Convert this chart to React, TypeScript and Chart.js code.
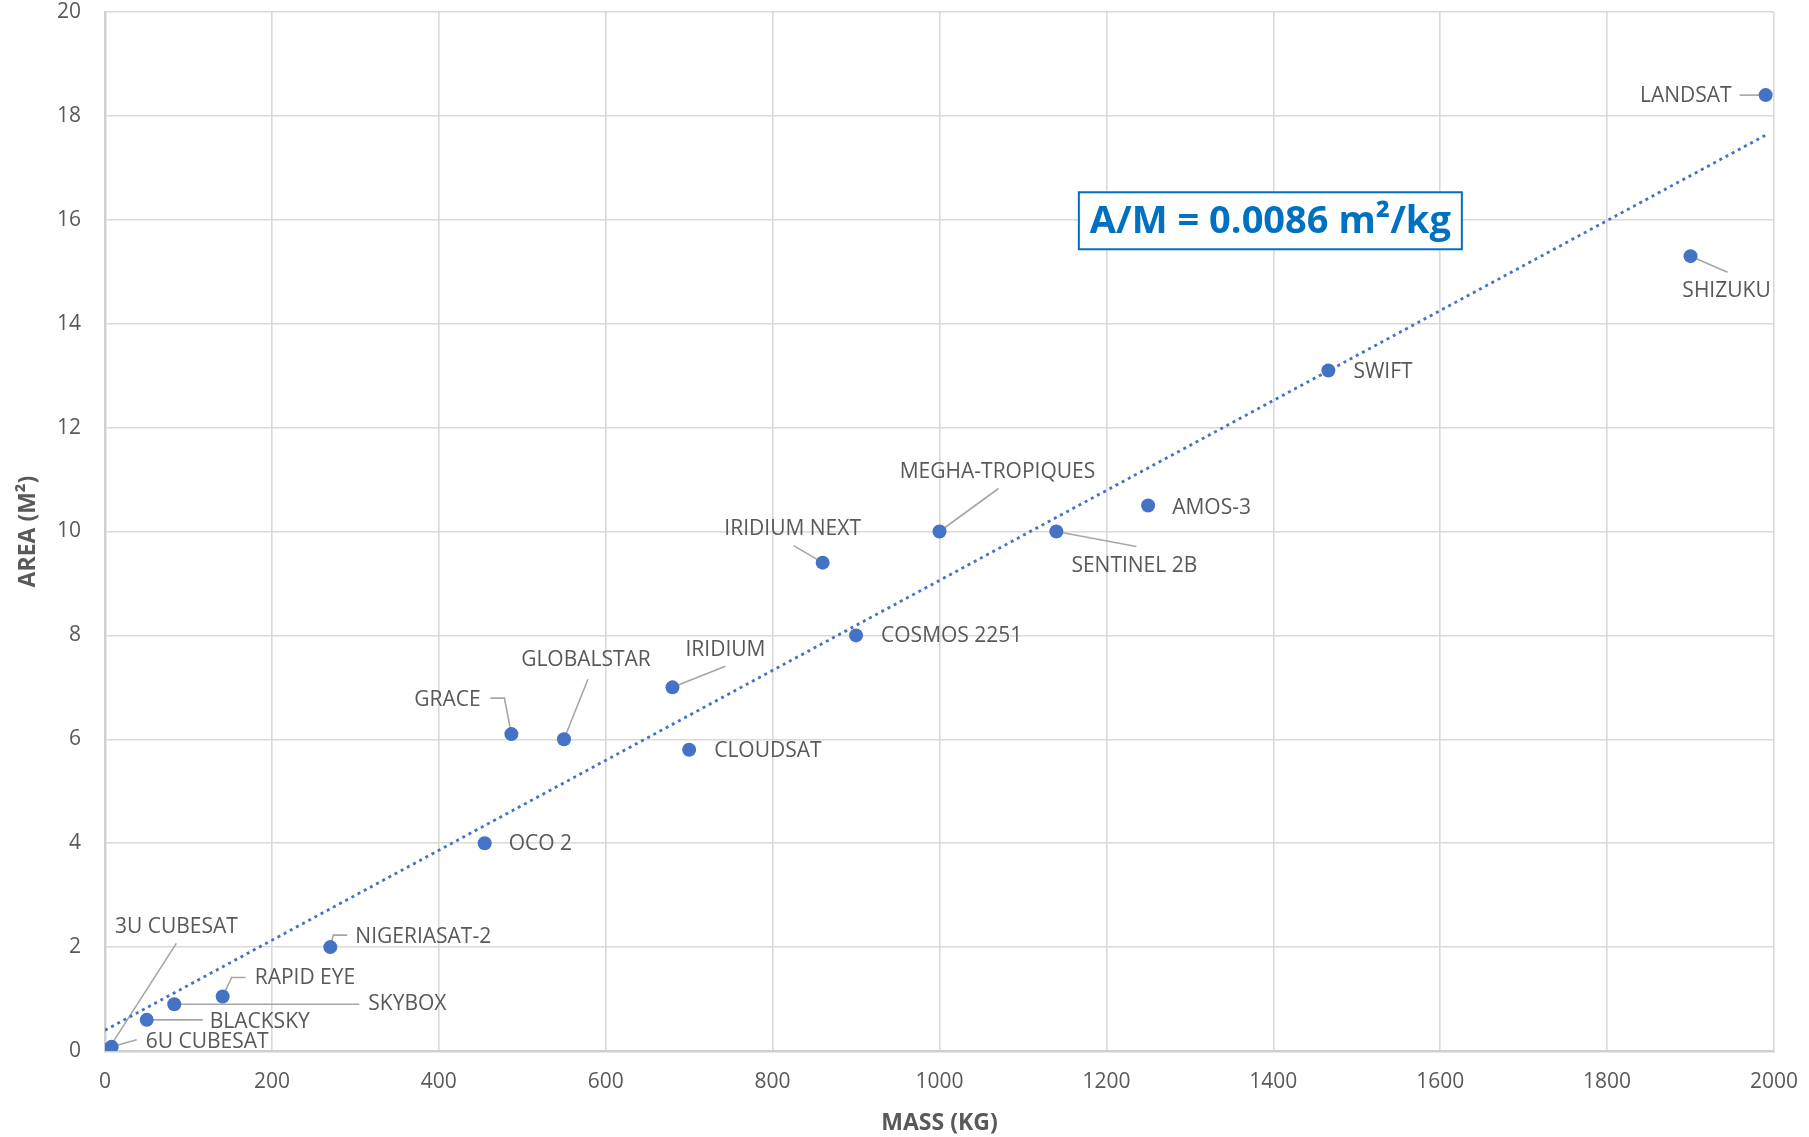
import React, { useEffect, useRef } from 'react';
import { Chart, registerables } from 'chart.js';

Chart.register(...registerables);

// ---- data ----
const satNames = [
  'LANDSAT', 'SHIZUKU', 'SWIFT', 'AMOS-3', 'SENTINEL 2B', 'MEGHA-TROPIQUES',
  'IRIDIUM NEXT', 'COSMOS 2251', 'IRIDIUM', 'CLOUDSAT', 'GLOBALSTAR', 'GRACE',
  'OCO 2', 'NIGERIASAT-2', 'RAPID EYE', 'SKYBOX', 'BLACKSKY', '6U CUBESAT', '3U CUBESAT',
];
const massKg = [1990, 1900, 1466, 1250, 1140, 1000, 860, 900, 680, 700, 550, 487, 455, 270, 141, 83, 50, 8, 4];
const areaM2 = [18.4, 15.3, 13.1, 10.5, 10.0, 10.0, 9.4, 8.0, 7.0, 5.8, 6.0, 6.1, 4.0, 2.0, 1.05, 0.9, 0.6, 0.08, 0.03];
const trendMass = [0, 1990];
const trendArea = [0.4, 17.63];
const massTicks = { min: 0, max: 2000, step: 200 };
const areaTicks = { min: 0, max: 20, step: 2 };
const fitText = 'A/M = 0.0086 m²/kg';
const fitAnchor = { mass: 1167, area: 16.53 };
const xTitle = 'MASS (KG)';
const yTitle = 'AREA (M²)';

// ---- label layout (pixel offsets from each point) ----
type Lay = { dx: number; dy: number; align: 'left' | 'right' | 'center'; leader?: number[][] };
const labelLayout: Lay[] = [
  { dx: -34, dy: 1, align: 'right', leader: [[-26, 0], [0, 0]] },
  { dx: 36, dy: 35, align: 'center', leader: [[0, 0], [37, 16]] },
  { dx: 25, dy: 2, align: 'left' },
  { dx: 24, dy: 2, align: 'left' },
  { dx: 78, dy: 35, align: 'center', leader: [[0, 0], [80, 15]] },
  { dx: 58, dy: -59, align: 'center', leader: [[0, 0], [59, -43]] },
  { dx: -30, dy: -34, align: 'center', leader: [[0, 0], [-29, -17]] },
  { dx: 25, dy: 1, align: 'left' },
  { dx: 53, dy: -37, align: 'center', leader: [[0, 0], [53, -21]] },
  { dx: 25, dy: 1, align: 'left' },
  { dx: 22, dy: -79, align: 'center', leader: [[0, 0], [24, -60]] },
  { dx: -64, dy: -34, align: 'center', leader: [[-21, -36], [-7, -36], [0, 0]] },
  { dx: 24, dy: 1, align: 'left' },
  { dx: 25, dy: -10, align: 'left', leader: [[0, 0], [3, -12], [17, -12]] },
  { dx: 32, dy: -18, align: 'left', leader: [[0, 0], [9, -19], [23, -19]] },
  { dx: 194, dy: 0, align: 'left', leader: [[0, 0], [185, 0]] },
  { dx: 63, dy: 2, align: 'left', leader: [[0, 0], [56, 0]] },
  { dx: 34, dy: -5, align: 'left', leader: [[0, 0], [25, -7]] },
  { dx: 68, dy: -122, align: 'center', leader: [[0, 0], [68, -106]] },
];

const FONT = "'Open Sans', 'Noto Sans', sans-serif";
const BLUE = '#4472C4';
const TEXT = '#595959';

const labelPlugin = {
  id: 'satLabels',
  beforeDatasetsDraw(chart: any) {
    const { ctx } = chart;
    const meta = chart.getDatasetMeta(0);
    ctx.save();
    ctx.strokeStyle = '#A6A6A6';
    ctx.lineWidth = 1.6;
    meta.data.forEach((pt: any, i: number) => {
      const L = labelLayout[i];
      if (!L || !L.leader) return;
      ctx.beginPath();
      L.leader.forEach((p, k) => {
        const x = pt.x + p[0];
        const y = pt.y + p[1];
        if (k === 0) ctx.moveTo(x, y);
        else ctx.lineTo(x, y);
      });
      ctx.stroke();
    });
    ctx.restore();
  },
  afterDatasetsDraw(chart: any) {
    const { ctx } = chart;
    const meta = chart.getDatasetMeta(0);
    ctx.save();
    ctx.fillStyle = TEXT;
    ctx.font = `21px ${FONT}`;
    ctx.textBaseline = 'middle';
    meta.data.forEach((pt: any, i: number) => {
      const L = labelLayout[i];
      ctx.textAlign = L.align;
      ctx.fillText(satNames[i], pt.x + L.dx, pt.y + L.dy);
    });
    // fit annotation box
    const xs = chart.scales.x;
    const ys = chart.scales.y;
    const bx = xs.getPixelForValue(fitAnchor.mass);
    const by = ys.getPixelForValue(fitAnchor.area);
    ctx.font = `bold 38px ${FONT}`;
    const tw = ctx.measureText(fitText).width;
    const bw = tw + 22;
    const bh = 57;
    ctx.fillStyle = '#FFFFFF';
    ctx.fillRect(bx, by, bw, bh);
    ctx.strokeStyle = '#0070C0';
    ctx.lineWidth = 2;
    ctx.strokeRect(bx, by, bw, bh);
    ctx.fillStyle = '#0070C0';
    ctx.textAlign = 'left';
    ctx.fillText(fitText, bx + 11, by + bh / 2 + 1);
    ctx.restore();
  },
};

export default function App() {
  const ref = useRef<HTMLCanvasElement | null>(null);

  useEffect(() => {
    document.body.style.margin = '0';
    if (!ref.current) return;
    const points = massKg.map((m, i) => ({ x: m, y: areaM2[i] }));
    const trend = trendMass.map((m, i) => ({ x: m, y: trendArea[i] }));
    const chart = new Chart(ref.current, {
      type: 'scatter',
      data: {
        datasets: [
          {
            label: 'Satellites',
            data: points,
            backgroundColor: BLUE,
            borderColor: BLUE,
            borderWidth: 0,
            pointRadius: 7,
            pointHoverRadius: 7,
          },
          {
            label: 'Trend',
            data: trend,
            showLine: true,
            pointRadius: 0,
            borderColor: BLUE,
            borderWidth: 2.8,
            borderDash: [3, 4],
            fill: false,
          } as any,
        ],
      },
      options: {
        animation: false,
        responsive: true,
        maintainAspectRatio: false,
        layout: { padding: { top: 12, right: 35, left: 0, bottom: 0 } },
        plugins: { legend: { display: false }, tooltip: { enabled: false } },
        scales: {
          x: {
            type: 'linear',
            min: massTicks.min,
            max: massTicks.max,
            ticks: {
              stepSize: massTicks.step,
              color: TEXT,
              font: { size: 21, family: FONT },
              padding: 18,
              maxRotation: 0,
              callback: (v: any) => String(v),
            },
            grid: { color: '#D9D9D9', lineWidth: 1.6, drawTicks: false },
            border: { display: true, color: '#D0D0D0', width: 2.5 },
            title: {
              display: true,
              text: xTitle,
              color: TEXT,
              font: { size: 23, family: FONT, weight: 'bold' },
              padding: { top: 0, bottom: 0 },
            },
            afterFit: (s: any) => {
              s.height = 86;
              s.paddingLeft = 0;
              s.paddingRight = 0;
            },
          },
          y: {
            type: 'linear',
            min: areaTicks.min,
            max: areaTicks.max,
            ticks: {
              stepSize: areaTicks.step,
              color: TEXT,
              font: { size: 21, family: FONT },
              padding: 24,
              callback: (v: any) => String(v),
            },
            grid: { color: '#D9D9D9', lineWidth: 1.6, drawTicks: false },
            border: { display: true, color: '#D0D0D0', width: 2.5 },
            title: {
              display: true,
              text: yTitle,
              color: TEXT,
              font: { size: 23, family: FONT, weight: 'bold' },
              padding: { top: 15, bottom: 0 },
            },
            afterFit: (s: any) => {
              s.width = 105;
              s.paddingTop = 0;
              s.paddingBottom = 0;
            },
          },
        },
      },
      plugins: [labelPlugin],
    });
    return () => chart.destroy();
  }, []);

  return (
    <div style={{ position: 'fixed', left: 0, top: 0, width: 1809, height: 1137, background: '#fff' }}>
      <canvas ref={ref} />
    </div>
  );
}
